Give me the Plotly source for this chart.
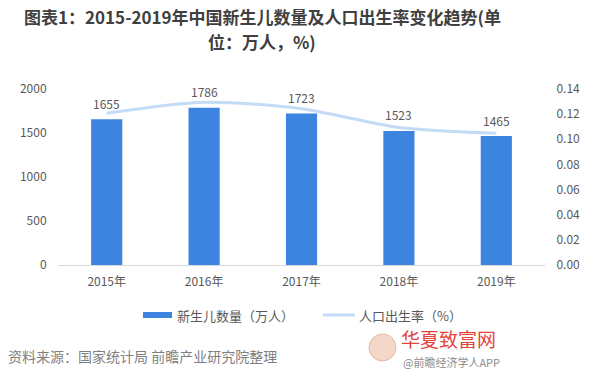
import plotly.graph_objects as go

years = ["2015年", "2016年", "2017年", "2018年", "2019年"]
births = [1655, 1786, 1723, 1523, 1465]
birth_rate = [0.1207, 0.1295, 0.1243, 0.1094, 0.1048]
left_ticks = [0, 500, 1000, 1500, 2000]
right_ticks = [0.00, 0.02, 0.04, 0.06, 0.08, 0.10, 0.12, 0.14]

BAR_COLOR = "#3c84e0"
LINE_COLOR = "#c3dbf6"
TXT = "#595959"
FONT = "Noto Sans CJK SC"

fig = go.Figure()
fig.add_trace(go.Bar(x=years, y=births, name="新生儿数量（万人）",
                     marker=dict(color=BAR_COLOR, line=dict(width=0)),
                     width=0.32, showlegend=False))
fig.add_trace(go.Scatter(x=years, y=birth_rate, name="人口出生率（%）", yaxis="y2",
                         mode="lines", line=dict(color=LINE_COLOR, width=3, shape="spline", smoothing=0.8),
                         showlegend=False))

for x, v in zip(years, births):
    fig.add_annotation(x=x, y=v, text=str(v), showarrow=False, yshift=16,
                       font=dict(size=12, color=TXT, family=FONT))

fig.update_layout(
    width=600, height=382,
    margin=dict(l=58, r=55, t=89, b=117),
    paper_bgcolor="white", plot_bgcolor="white",
    font=dict(family=FONT, color=TXT),
    xaxis=dict(showgrid=False, showline=True, linecolor="#d9d9d9", linewidth=1,
               ticks="outside", ticklen=6, tickcolor="rgba(0,0,0,0)",
               tickfont=dict(size=12, color=TXT)),
    yaxis=dict(range=[0, 2000], tickvals=left_ticks, showgrid=False, zeroline=False,
               ticks="outside", ticklen=8, tickcolor="rgba(0,0,0,0)",
               tickfont=dict(size=12, color=TXT)),
    yaxis2=dict(range=[0, 0.14], tickvals=right_ticks, tickformat=".2f", overlaying="y",
                side="right", showgrid=False, zeroline=False,
                ticks="outside", ticklen=8, tickcolor="rgba(0,0,0,0)",
                tickfont=dict(size=12, color=TXT)),
)

def px(xp):
    return (xp - 58) / 487
def py(yp):
    return (265 - yp) / 176

# title
fig.add_annotation(xref="paper", yref="paper", x=px(262), y=py(17),
                   xanchor="center", yanchor="middle", showarrow=False,
                   text="<b>图表1：2015-2019年中国新生儿数量及人口出生率变化趋势(单</b>",
                   font=dict(size=17, color="#404040", family=FONT))
fig.add_annotation(xref="paper", yref="paper", x=px(262), y=py(42),
                   xanchor="center", yanchor="middle", showarrow=False,
                   text="<b>位：万人，%)</b>",
                   font=dict(size=17, color="#404040", family=FONT))

# custom legend
fig.add_shape(type="rect", xref="paper", yref="paper", x0=px(143), x1=px(172),
              y0=py(318), y1=py(312), fillcolor=BAR_COLOR, line=dict(width=0))
fig.add_annotation(xref="paper", yref="paper", x=px(175), y=py(315), xanchor="left",
                   yanchor="middle", showarrow=False, text="新生儿数量（万人）",
                   font=dict(size=13, color=TXT, family=FONT))
fig.add_shape(type="line", xref="paper", yref="paper", x0=px(323), x1=px(355),
              y0=py(315), y1=py(315), line=dict(color=LINE_COLOR, width=3))
fig.add_annotation(xref="paper", yref="paper", x=px(357), y=py(315), xanchor="left",
                   yanchor="middle", showarrow=False, text="人口出生率（%）",
                   font=dict(size=13, color=TXT, family=FONT))

# source
fig.add_annotation(xref="paper", yref="paper", x=px(6), y=py(356), xanchor="left",
                   yanchor="middle", showarrow=False, text="资料来源：国家统计局 前瞻产业研究院整理",
                   font=dict(size=14, color="#7f7f7f", family=FONT))
# bottom-right logo
fig.add_shape(type="circle", xref="paper", yref="paper", x0=px(369), x1=px(396),
              y0=py(361), y1=py(334), fillcolor="#f3d7c8", line=dict(color="#e8b9a5", width=1))
fig.add_annotation(xref="paper", yref="paper", x=px(399), y=py(338), xanchor="left",
                   yanchor="middle", showarrow=False, text="华夏致富网",
                   font=dict(size=19, color="#e2453c", family=FONT))
fig.add_annotation(xref="paper", yref="paper", x=px(401), y=py(362), xanchor="left",
                   yanchor="middle", showarrow=False, text="@前瞻经济学人APP",
                   font=dict(size=11, color="#8c8c8c", family=FONT))

fig.write_html("out.html", config={"displayModeBar": False},
               post_script="document.body.style.margin='0';")
